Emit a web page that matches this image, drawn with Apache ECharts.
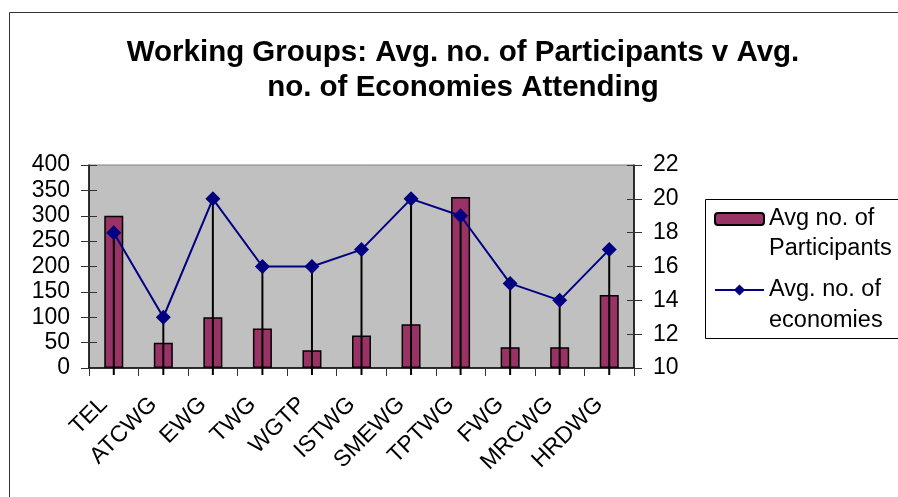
<!DOCTYPE html>
<html>
<head>
<meta charset="utf-8">
<script src="https://cdn.jsdelivr.net/npm/echarts@6/dist/echarts.min.js"></script>
<style>html,body{margin:0;padding:0;background:#fff}#c{width:898px;height:497px}</style>
</head>
<body>
<div id="c"></div>
<script>
const categories = ['TEL','ATCWG','EWG','TWG','WGTP','ISTWG','SMEWG','TPTWG','FWG','MRCWG','HRDWG'];
const participants = [300, 50, 100, 78, 35, 64, 86, 337, 41, 41, 144];
const economies = [18, 13, 20, 16, 16, 17, 20, 19, 15, 14, 17];
const leftTicks = {min: 0, max: 400, interval: 50};
const rightTicks = {min: 10, max: 22, interval: 2};
const nameBar = 'Avg no. of Participants';
const nameLine = 'Avg. no. of economies';
const legendBar = '\nAvg no. of\nParticipants';
const legendLine = '\nAvg. no. of\neconomies';

const FONT = '"Liberation Sans", Arial, sans-serif';
const chart = echarts.init(document.getElementById('c'), null, {renderer: 'canvas'});
const labelStyle = {fontFamily: FONT, fontSize: 23, color: '#000'};

const option = {
  animation: false,
  backgroundColor: '#fff',
  title: {
    text: 'Working Groups: Avg. no. of Participants v Avg.\nno. of Economies Attending',
    left: 458, top: 30, textAlign: 'center',
    textStyle: {fontFamily: FONT, fontSize: 29.5, fontWeight: 'bold', color: '#000', lineHeight: 35}
  },
  graphic: [
    {type: 'rect', left: 7, top: 10, shape: {width: 1000, height: 1000}, style: {fill: 'none', stroke: '#333', lineWidth: 1}, silent: true},
    {type: 'rect', left: 703, top: 197, shape: {width: 400, height: 139}, style: {fill: 'none', stroke: '#000', lineWidth: 1}, silent: true}
  ],
  legend: [
    {
      data: [nameBar], left: 714, top: 174, padding: 0, itemWidth: 49, itemHeight: 12, itemGap: 8,
      formatter: () => legendBar,
      textStyle: {fontFamily: FONT, fontSize: 23.5, color: '#000', lineHeight: 30},
      selectedMode: false
    },
    {
      data: [nameLine], left: 714, top: 243.5, padding: 0, itemWidth: 49, itemHeight: 14, itemGap: 8,
      formatter: () => legendLine,
      textStyle: {fontFamily: FONT, fontSize: 23.5, color: '#000', lineHeight: 31},
      selectedMode: false
    }
  ],
  grid: {
    left: 89, right: 264, top: 165, bottom: 129, show: true, outerBoundsMode: 'none', containLabel: false,
    backgroundColor: '#C0C0C0', borderColor: '#808080', borderWidth: 1
  },
  xAxis: {
    type: 'category', data: categories, boundaryGap: true,
    axisLine: {lineStyle: {color: '#000', width: 1.5}},
    axisTick: {show: true, length: 8, lineStyle: {color: '#333', width: 1}},
    axisLabel: Object.assign({rotate: 45, margin: 23, interval: 0, padding: [0, 14, 0, 0]}, labelStyle),
    splitLine: {show: false}
  },
  yAxis: [
    {
      type: 'value', position: 'left', min: leftTicks.min, max: leftTicks.max, interval: leftTicks.interval,
      axisLine: {show: true, lineStyle: {color: '#000', width: 1.5}},
      axisTick: {show: true, length: 8, lineStyle: {color: '#333'}},
      axisLabel: Object.assign({margin: 19}, labelStyle),
      splitLine: {show: false}
    },
    {
      type: 'value', position: 'right', min: rightTicks.min, max: rightTicks.max, interval: rightTicks.interval,
      axisLine: {show: true, lineStyle: {color: '#000', width: 1.5}},
      axisTick: {show: true, length: 8, lineStyle: {color: '#333'}},
      axisLabel: Object.assign({margin: 19}, labelStyle),
      splitLine: {show: false}
    },
    {
      type: 'value', position: 'left', min: leftTicks.min, max: leftTicks.max, interval: leftTicks.interval,
      axisLine: {show: false}, axisLabel: {show: false}, splitLine: {show: false},
      axisTick: {show: true, inside: true, length: 8, lineStyle: {color: '#333'}}
    },
    {
      type: 'value', position: 'right', min: rightTicks.min, max: rightTicks.max, interval: rightTicks.interval,
      axisLine: {show: false}, axisLabel: {show: false}, splitLine: {show: false},
      axisTick: {show: true, inside: true, length: 7, lineStyle: {color: '#333'}}
    }
  ],
  series: [
    {
      name: nameBar, type: 'bar', yAxisIndex: 0, data: participants, barWidth: 19,
      itemStyle: {color: '#993366', borderColor: '#000', borderWidth: 1.5},
      z: 2
    },
    {
      name: 'drop', type: 'custom', yAxisIndex: 1, z: 3,
      data: economies.map((v, i) => [i, v]),
      renderItem: function (params, api) {
        const top = api.coord([api.value(0), api.value(1)]);
        const bot = api.coord([api.value(0), rightTicks.min]);
        return {type: 'line', shape: {x1: top[0], y1: top[1], x2: bot[0], y2: bot[1] + 7},
          style: {stroke: '#000', lineWidth: 2}};
      },
      silent: true
    },
    {
      name: nameLine, type: 'line', yAxisIndex: 1, data: economies,
      symbol: 'diamond', symbolSize: 15, z: 4,
      lineStyle: {color: '#000080', width: 2},
      itemStyle: {color: '#000080'}
    }
  ]
};
chart.setOption(option);
</script>
</body>
</html>
